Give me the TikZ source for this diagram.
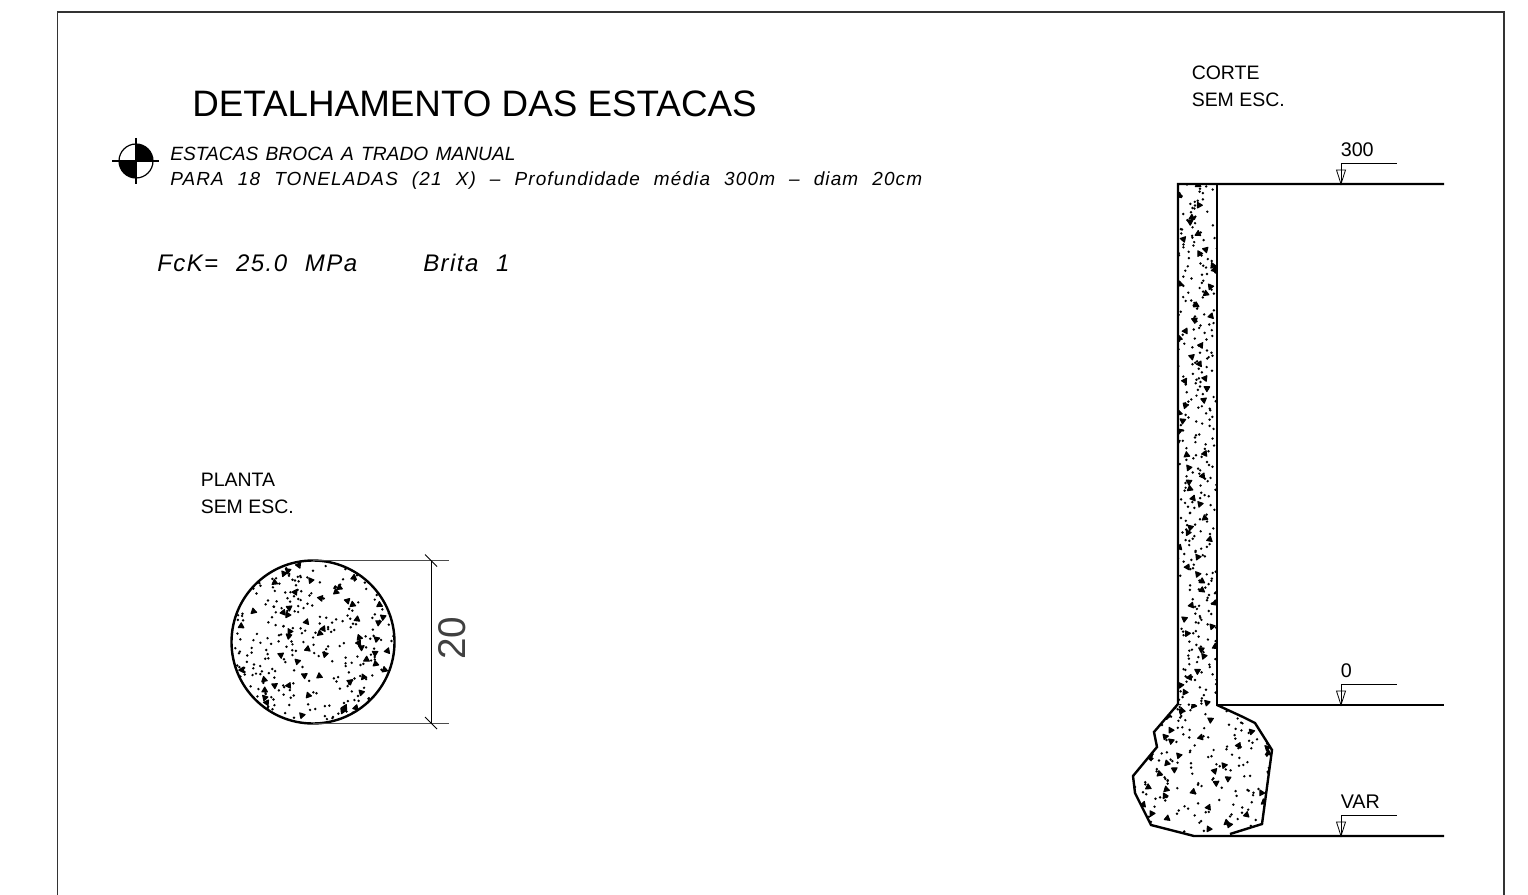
\documentclass[tikz,border=0pt]{standalone}
\usepackage{fontspec}
\setmainfont{Liberation Sans}
\usetikzlibrary{positioning,calc}
\newfontfamily\cadfont[LetterSpace=6,WordSpace=1.88]{Liberation Sans}
\newfontfamily\capfont[WordSpace=1.35]{Liberation Sans}
\newfontfamily\bigfont[LetterSpace=6,WordSpace=2.2]{Liberation Sans}
\tikzset{
    outline/.style={
        line width=1.8pt,
        draw=black,
    },
    thinline/.style={
        line width=0.6pt,
        draw=black!70,
    },
    label/.style={
        anchor=base west,
        inner sep=0pt,
        font=\fontsize{14.6}{18}\selectfont,
    },
    note/.style={
        anchor=base west,
        inner sep=0pt,
        font=\cadfont\itshape\fontsize{14.22}{18}\selectfont,
    },
}
% gravel: fine dots and coarse grains spread over a box
\newcommand{\gravel}[6]{%
    \foreach \i in {1,...,#5} {
        \pgfmathsetmacro{\gx}{#1+rnd*(#3-#1)}
        \pgfmathsetmacro{\gy}{#2+(\i-rnd)/#5*(#4-#2)}
        \fill (\gx,\gy) circle (1.35);
    }
    \foreach \i in {1,...,#6} {
        \pgfmathsetmacro{\gx}{#1+rnd*(#3-#1)}
        \pgfmathsetmacro{\gy}{#2+(\i-rnd)/#6*(#4-#2)}
        \pgfmathsetmacro{\ga}{rnd*360}
        \filldraw [line width=0.8pt,line join=round] (\gx,\gy) ++(\ga:3.5) -- ++(\ga+130:5.6) -- ++(\ga+250:5.6) -- cycle;
    }
}
\begin{document}
\begin{tikzpicture}[x=0.75pt,y=-0.75pt]
    \useasboundingbox (0,0) rectangle (1528,895);
    \pgfmathsetseed{2718}
    % frame
    \coordinate (fa) at (57.5,895);
    \coordinate (fb) at (57.5,12);
    \coordinate (fc) at (1504,12);
    \coordinate (fd) at (1504,895);
    \draw [line width=0.8pt,draw=black!80] (fa) -- (fb) -- (fc) -- (fd);
    % title
    \node [label,font=\fontsize{27.6}{32}\selectfont] (title) at (192,117) {DETALHAMENTO DAS ESTACAS};
    \node [note,font=\capfont\itshape\fontsize{14.4}{18}\selectfont] (n1) at (170,161) {ESTACAS  BROCA  A  TRADO  MANUAL};
    \node [note] (n2) at (170,186) {PARA  18  TONELADAS  (21  X)  –  Profundidade  média  300m  –  diam  20cm};
    \node [note,font=\bigfont\itshape\fontsize{18}{22}\selectfont] (fck) at (157,271) {FcK=  25.0  MPa};
    \node [note,font=\bigfont\itshape\fontsize{18}{22}\selectfont] (brita) at (423,271) {Brita  1};
    % section mark
    \coordinate (m) at (136,161);
    \begin{scope}
        \clip (m) circle (17);
        \fill (136,144) rectangle (153,161);
        \fill (119,161) rectangle (136,178);
    \end{scope}
    \draw [line width=0.9pt] (m) circle (17);
    \draw [line width=0.9pt] (112,161) -- (159,161);
    \draw [line width=0.9pt] (136,138) -- (136,184);
    % plan
    \node [label] (planta) at (200.5,486) {PLANTA};
    \node [label] (semesc1) at (200.5,513) {SEM ESC.};
    \coordinate (c) at (313,642);
    \begin{scope}
        \clip (c) circle (81.5);
        \gravel{231}{560}{395}{724}{320}{70}
    \end{scope}
    \draw [outline] (c) circle (81.5);
    \coordinate (e1) at (313,560.5);
    \coordinate (e2) at (449,560.5);
    \coordinate (e3) at (313,723);
    \coordinate (e4) at (449,723);
    \coordinate (d1) at (431,560.5);
    \coordinate (d2) at (431,723);
    \draw [thinline] (e1) -- (e2);
    \draw [thinline] (e3) -- (e4);
    \draw [line width=0.6pt] (d1) -- (d2);
    \draw [line width=0.6pt] ($(d1)+(-6,-6)$) -- ($(d1)+(6,6)$);
    \draw [line width=0.6pt] ($(d2)+(-6,-6)$) -- ($(d2)+(6,6)$);
    \node [inner sep=0pt,rotate=90,font=\fontsize{29}{33}\selectfont,text=black!75] (dim) at (452,638) {20};
    % section
    \node [label] (corte) at (1191.5,80) {CORTE};
    \node [label] (semesc2) at (1191.5,107) {SEM ESC.};
    \begin{scope}
        \clip (1178,184) rectangle (1217,706);
        \gravel{1178}{184}{1217}{706}{300}{62}
    \end{scope}
    \begin{scope}
        \clip (1178,704) -- (1154,732) -- (1157,747) -- (1133,776) -- (1135,793) -- (1151,825)
            -- (1194,836) -- (1230,834) -- (1262,824) -- (1272,750) -- (1255,723) -- (1243,717)
            -- (1217,704) -- cycle;
        \gravel{1133}{704}{1272}{836}{170}{40}
    \end{scope}
    \coordinate (t1) at (1178,184);
    \coordinate (t2) at (1217,184);
    \coordinate (t3) at (1444,184);
    \coordinate (m1) at (1217,705);
    \coordinate (m2) at (1444,705);
    \coordinate (b1) at (1194,836);
    \coordinate (b2) at (1444,836);
    \draw [outline] (t3) -- (t1) -- (1178,704) -- (1154,732) -- (1157,747) -- (1133,776) -- (1135,793)
        -- (1151,825) -- (b1) -- (b2);
    \draw [outline] (t2) -- (m1) -- (m2);
    \draw [outline] (m1) -- (1243,717) -- (1255,723) -- (1272,750) -- (1262,824) -- (1230,834);
    % levels
    \foreach \yl/\nm/\tx in {184/lv1/300,705/lv2/0,836/lv3/VAR} {
        \coordinate (\nm) at (1341,\yl);
        \draw [line width=0.6pt] (\nm) -- ++(0,-21) -- ++(56,0);
        \draw [line width=0.6pt] (\nm) -- ++(-4.5,-14) -- ++(9,0) -- cycle;
        \node [label,font=\fontsize{14.8}{18}\selectfont] (\nm t) at (1340.5,\yl-27.5) {\tx};
    }
\end{tikzpicture}
\end{document}
